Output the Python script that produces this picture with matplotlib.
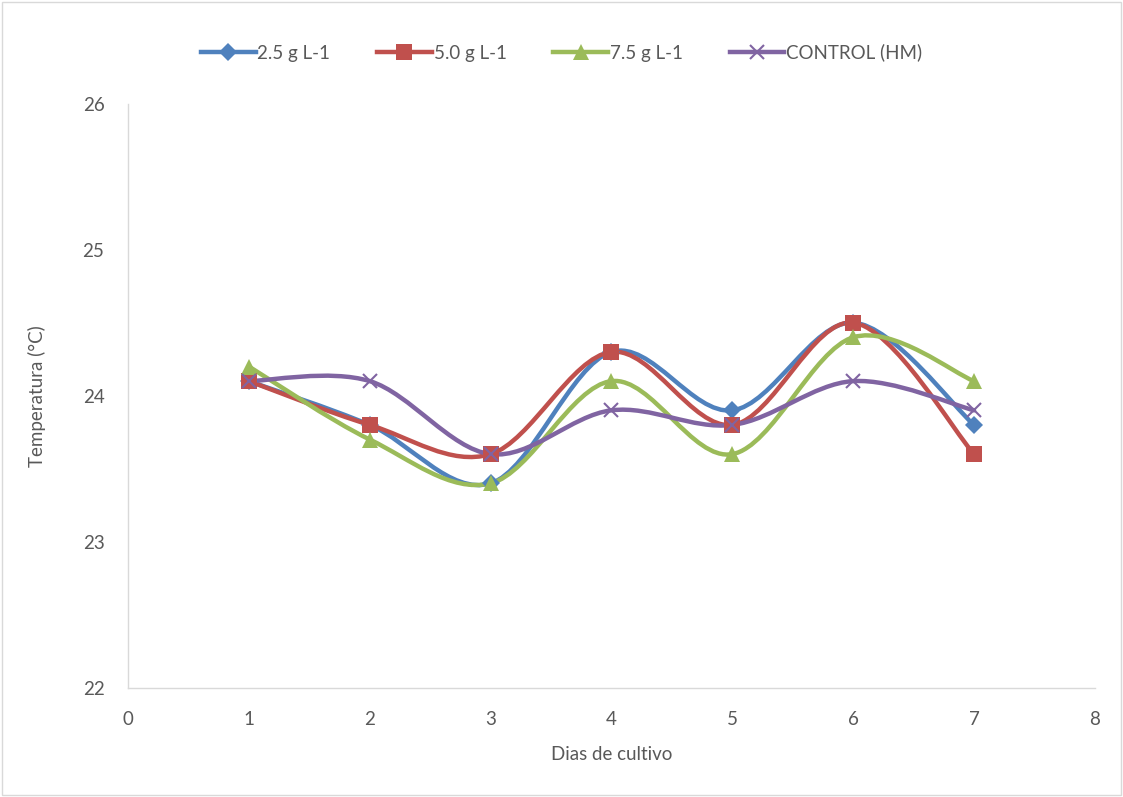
import matplotlib
matplotlib.use("Agg")
import matplotlib.pyplot as plt
import numpy as np
from matplotlib.path import Path
from matplotlib.patches import PathPatch
from matplotlib.lines import Line2D

plt.rcParams["font.family"] = ["Lato", "DejaVu Sans"]

dias = [1, 2, 3, 4, 5, 6, 7]
temp_25 = [24.1, 23.8, 23.4, 24.3, 23.9, 24.5, 23.8]
temp_50 = [24.1, 23.8, 23.6, 24.3, 23.8, 24.5, 23.6]
temp_75 = [24.2, 23.7, 23.4, 24.1, 23.6, 24.4, 24.1]
temp_ctrl = [24.1, 24.1, 23.6, 23.9, 23.8, 24.1, 23.9]

series = [
    ("2.5 g L-1", temp_25, "#4F81BD", "D", 9),
    ("5.0 g L-1", temp_50, "#C0504D", "s", 11),
    ("7.5 g L-1", temp_75, "#9BBB59", "^", 11),
    ("CONTROL (HM)", temp_ctrl, "#8064A2", "x", 10),
]


def smooth_path(x, y):
    # Excel-style smoothed line: cubic Bezier through points (Catmull-Rom, /6)
    p = np.column_stack([x, y]).astype(float)
    n = len(p)
    verts = [p[0]]
    codes = [Path.MOVETO]
    for i in range(n - 1):
        p0 = p[i - 1] if i > 0 else p[i]
        p3 = p[i + 2] if i + 2 < n else p[i + 1]
        c1 = p[i] + (p[i + 1] - p0) / 6.0
        c2 = p[i + 1] - (p3 - p[i]) / 6.0
        verts += [c1, c2, p[i + 1]]
        codes += [Path.CURVE4] * 3
    return Path(verts, codes)


fig = plt.figure(figsize=(11.23, 7.97), dpi=100)
ax = fig.add_axes([0.114, 0.137, 0.861, 0.733])

handles = []
for label, vals, color, mk, ms in series:
    ax.add_patch(PathPatch(smooth_path(dias, vals), facecolor="none",
                           edgecolor=color, lw=3.2, capstyle="round"))
    mew = 1.5 if mk == "x" else 0
    ax.plot(dias, vals, linestyle="none", marker=mk, markersize=ms,
            color=color, markeredgewidth=mew, zorder=3)
    handles.append(Line2D([], [], color=color, lw=3.2, marker=mk,
                          markersize=ms, markeredgewidth=mew, label=label))

ax.set_xlim(0, 8)
ax.set_ylim(22, 26)
ax.set_xticks(range(0, 9))
ax.set_yticks([22, 23, 24, 25, 26])
ax.tick_params(length=0, labelsize=13.5, colors="#595959")
ax.tick_params(axis="x", pad=17)
ax.tick_params(axis="y", pad=17)
for s in ["top", "right"]:
    ax.spines[s].set_visible(False)
for s in ["left", "bottom"]:
    ax.spines[s].set_color("#D9D9D9")
    ax.spines[s].set_linewidth(1)

ax.set_xlabel("Dias de cultivo", fontsize=13.5, color="#595959", labelpad=13)
ax.set_ylabel("Temperatura (°C)", fontsize=13.5, color="#595959", labelpad=26)

fig.legend(handles=handles, loc="center", bbox_to_anchor=(0.5, 0.934), ncol=4,
           frameon=False, fontsize=13.5, handlelength=2.9, columnspacing=2.5,
           handletextpad=0.1, labelcolor="#595959")

fig.patches.append(plt.Rectangle((0.002, 0.002), 0.996, 0.996,
                                 transform=fig.transFigure, fill=False,
                                 edgecolor="#D9D9D9", lw=1))

fig.savefig("out.png", dpi=100)
